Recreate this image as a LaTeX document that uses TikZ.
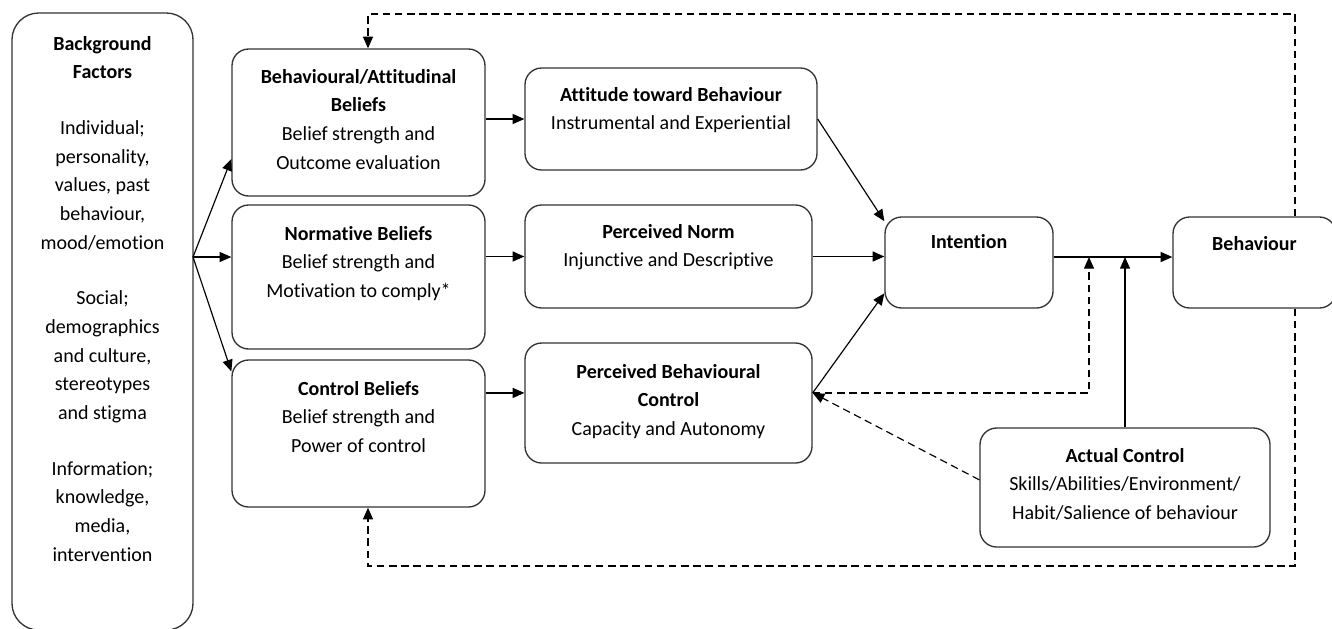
\documentclass[tikz,border=0pt]{standalone}
\usepackage{fontspec}
\setmainfont{Carlito}[Ligatures=NoCommon]
\usetikzlibrary{arrows.meta}
\newdimen\px \px=0.6pt
% width, height, first baseline, text
\newcommand{\boxtext}[4]{\parbox[c][#2\px][t]{#1\px}{\centering\rule{0pt}{#3\px}#4\par}}

\begin{document}
\begin{tikzpicture}
[x=0.6pt,y=-0.6pt,
 every node/.style={font=\fontsize{12pt}{17.2pt}\selectfont},
 factorBox/.style={draw=black!80,line width=0.8pt,rounded corners=10pt,inner sep=0pt},
 flowArrow/.style={-{Triangle[length=7pt,width=6pt]},line width=0.7pt},
 loopArrow/.style={flowArrow,dash pattern=on 4.5pt off 2.8pt}]
  \useasboundingbox (0,0) rectangle (1332,628);
  \clip (0,0) rectangle (1332,628);
  \node[factorBox,rounded corners=16pt] (bgFactors) at (102.5,321.5)
    {\boxtext{181}{617}{37}{\textbf{Background}\\\textbf{Factors}\\[27\px]
     Individual;\\personality,\\values, past\\behaviour,\\mood/emotion\\[27\px]
     Social;\\demographics\\and culture,\\stereotypes\\and stigma\\[27\px]
     Information;\\knowledge,\\media,\\intervention}};
  \node[factorBox] (behBeliefs) at (358.5,122.5)
    {\boxtext{253}{147}{34}{\textbf{Behavioural/Attitudinal}\\\textbf{Beliefs}\\Belief strength and\\Outcome evaluation}};
  \node[factorBox] (normBeliefs) at (358.5,277)
    {\boxtext{253}{144}{35}{\textbf{Normative Beliefs}\\Belief strength and\\Motivation to comply*}};
  \node[factorBox] (ctrlBeliefs) at (358.5,433.5)
    {\boxtext{253}{147}{35}{\textbf{Control Beliefs}\\Belief strength and\\Power of control}};
  \node[factorBox] (attitude) at (671,119)
    {\boxtext{292}{102}{33}{\textbf{Attitude toward Behaviour}\\Instrumental and Experiential}};
  \node[factorBox] (percNorm) at (668.5,256.5)
    {\boxtext{287}{103}{33}{\textbf{Perceived Norm}\\Injunctive and Descriptive}};
  \node[factorBox] (percCtrl) at (668.5,403)
    {\boxtext{287}{120}{35}{\textbf{Perceived Behavioural}\\\textbf{Control}\\Capacity and Autonomy}};
  \node[factorBox] (intention) at (969,262.5)
    {\boxtext{168}{91}{31}{\textbf{Intention}}};
  \node[factorBox] (behaviour) at (1254.5,262.5)
    {\boxtext{163}{91}{33}{\textbf{Behaviour}}};
  \node[factorBox] (actCtrl) at (1125,487.5)
    {\boxtext{290}{119}{34}{\textbf{Actual Control}\\Skills/Abilities/Environment/\\Habit/Salience of behaviour}};
  % junction points
  \coordinate (fan) at (193,257);
  \coordinate (intOut) at ([yshift=3.3pt]intention.east);
  \coordinate (dashJoin) at (1089,257);
  \coordinate (actJoin) at (actCtrl.north |- intOut);
  \coordinate (topR) at (1295,14);
  \coordinate (topL) at (368,14);
  \coordinate (botR) at (1295,566);
  \coordinate (botL) at (368,566);
  % background factors to beliefs
  \draw[flowArrow] (fan) -- (behBeliefs.196.5);
  \draw[flowArrow] (fan) -- (fan -| normBeliefs.west);
  \draw[flowArrow] (fan) -- (ctrlBeliefs.154.4);
  % beliefs to constructs
  \draw[flowArrow] (behBeliefs.east |- attitude.west) -- (attitude.west);
  \draw[flowArrow] (normBeliefs.east |- percNorm.west) -- (percNorm.west);
  \draw[flowArrow] (ctrlBeliefs.east |- percCtrl.176) -- (percCtrl.176);
  % constructs to intention
  \draw[flowArrow] (attitude.east) -- (intention.154);
  \draw[flowArrow] (percNorm.east) -- (percNorm.east -| intention.west);
  \draw[flowArrow] (percCtrl.4) -- (intention.200);
  % intention to behaviour
  \draw[flowArrow] (intOut) -- (intOut -| behaviour.west);
  \draw[flowArrow] (actCtrl.north) -- (actJoin);
  \draw[loopArrow] (percCtrl.4) -| (dashJoin);
  \draw[loopArrow] (actCtrl.177) -- (percCtrl.4);
  % feedback loops
  \draw[loopArrow] (topR |- behaviour.north) -- (topR) -- (topL) -- (topL |- behBeliefs.north);
  \draw[loopArrow] (botR |- behaviour.south) -- (botR) -- (botL) -- (botL |- ctrlBeliefs.south);
\end{tikzpicture}
\end{document}
